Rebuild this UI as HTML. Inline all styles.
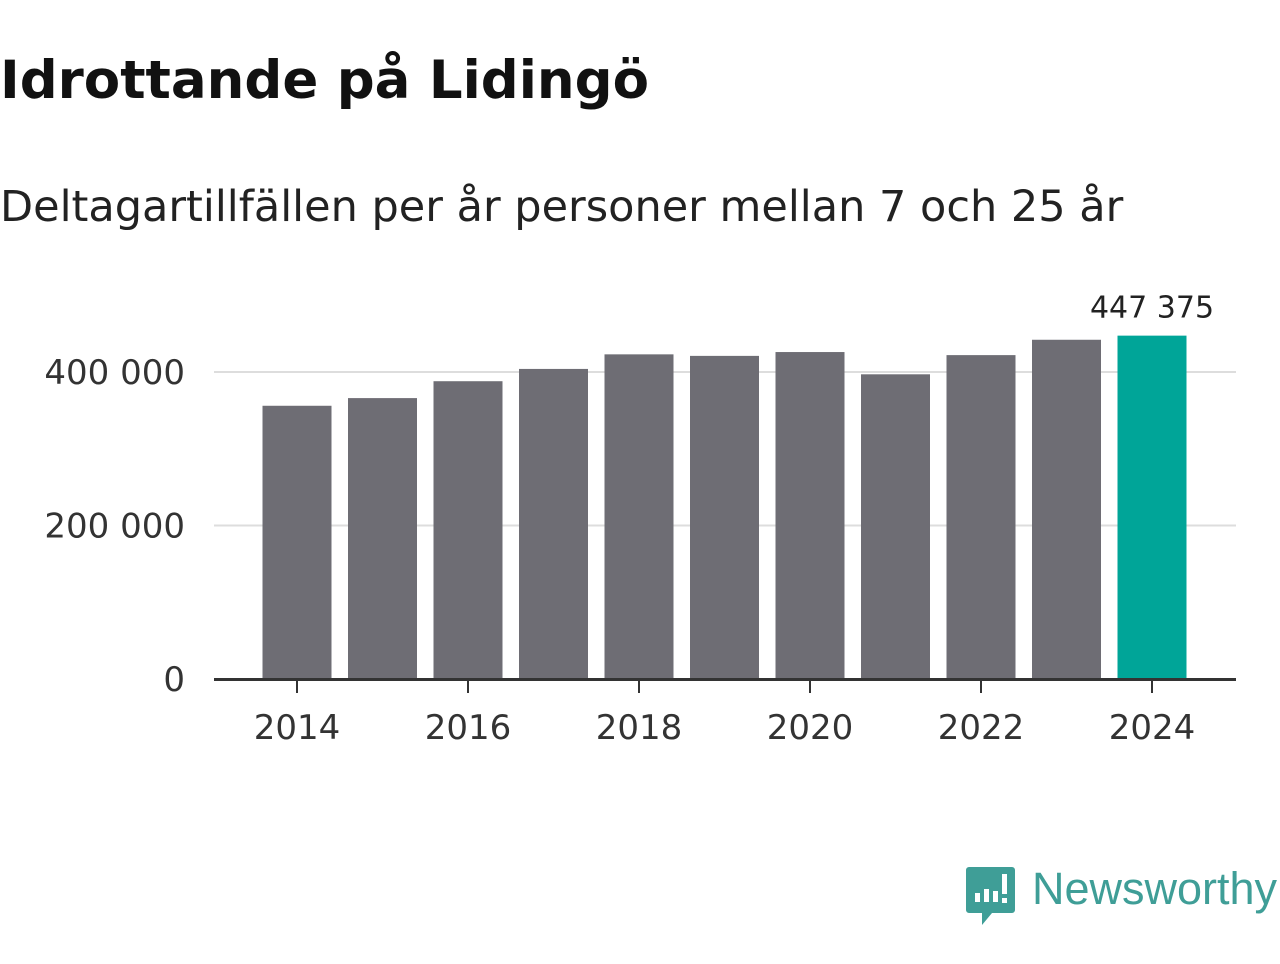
<!DOCTYPE html>
<html><head><meta charset="utf-8"><style>
body{margin:0;background:#fff;width:1280px;height:960px;overflow:hidden;font-family:"DejaVu Sans","Liberation Sans",sans-serif;}
</style></head><body>
<svg width="1280" height="960">
<text x="0" y="98" font-size="53" font-weight="bold" fill="#111">Idrottande på Lidingö</text>
<text x="0" y="221" font-size="43" fill="#222">Deltagartillfällen per år personer mellan 7 och 25 år</text>
<g id="grid"></g><g id="bars"></g><g id="axes"></g>
<g>
<path d="M966,867 h46 a3,3 0 0 1 3,3 v40 a3,3 0 0 1 -3,3 h-20 l-10,12 v-12 h-13 a3,3 0 0 1 -3,-3 v-40 a3,3 0 0 1 3,-3z" fill="#3f9e97"/>
<rect x="975" y="893" width="5" height="9" fill="#fff"/><rect x="984" y="889" width="5" height="13" fill="#fff"/><rect x="993" y="891" width="5" height="11" fill="#fff"/><rect x="1002" y="874" width="5" height="20" fill="#fff"/><rect x="1002" y="898" width="5" height="5" fill="#fff"/>
<text x="1032" y="904" font-size="45" fill="#3f9e97" font-family="Liberation Sans,sans-serif">Newsworthy</text>
</g>
</svg>
<script>
const years=[2014,2015,2016,2017,2018,2019,2020,2021,2022,2023,2024];
const values=[356000,366000,388000,404000,423000,421000,426000,397000,422000,442000,447375];
const yTicks=[0,200000,400000];
const yTickLabels=["0","200 000","400 000"];
const xTicks=[2014,2016,2018,2020,2022,2024];
const NS="http://www.w3.org/2000/svg";
const y=v=>679-v*(307/400000);
const x=yr=>297+(yr-2014)*85.5;
function mk(t,a,p){const e=document.createElementNS(NS,t);for(const k in a)e.setAttribute(k,a[k]);document.getElementById(p).appendChild(e);return e;}
yTicks.forEach((t,i)=>{
 if(t>0){const l=mk('line',{x1:214,x2:1236,y1:y(t),y2:y(t),stroke:'#ddd','stroke-width':2},'grid');
 
 }
 const tx=mk('text',{x:185,y:y(t)+12,'text-anchor':'end','font-size':34,fill:'#333'},'axes');tx.textContent=yTickLabels[i];
 
 
});
years.forEach((yr,i)=>{
 const last=i===years.length-1;
 const r=mk('rect',{x:x(yr)-34.5,y:y(values[i]),width:69,height:679-y(values[i]),fill:last?'#00a598':'#6e6d74'},'bars');
 
 
 if(last){const t=mk('text',{x:x(yr),y:y(values[i])-18,'text-anchor':'middle','font-size':30,fill:'#222'},'bars');t.textContent=values[i].toLocaleString('sv-SE').replace(/\s/g,' ');
 
 }
});
const ax=mk('line',{x1:214,x2:1236,y1:679.5,y2:679.5,stroke:'#333','stroke-width':3},'axes');


xTicks.forEach(yr=>{
 const l=mk('line',{x1:x(yr),x2:x(yr),y1:680,y2:693,stroke:'#333','stroke-width':2},'axes');
 
 
 const t=mk('text',{x:x(yr),y:739,'text-anchor':'middle','font-size':34,fill:'#333'},'axes');t.textContent=yr;
 
 
});
</script>
</body></html>
